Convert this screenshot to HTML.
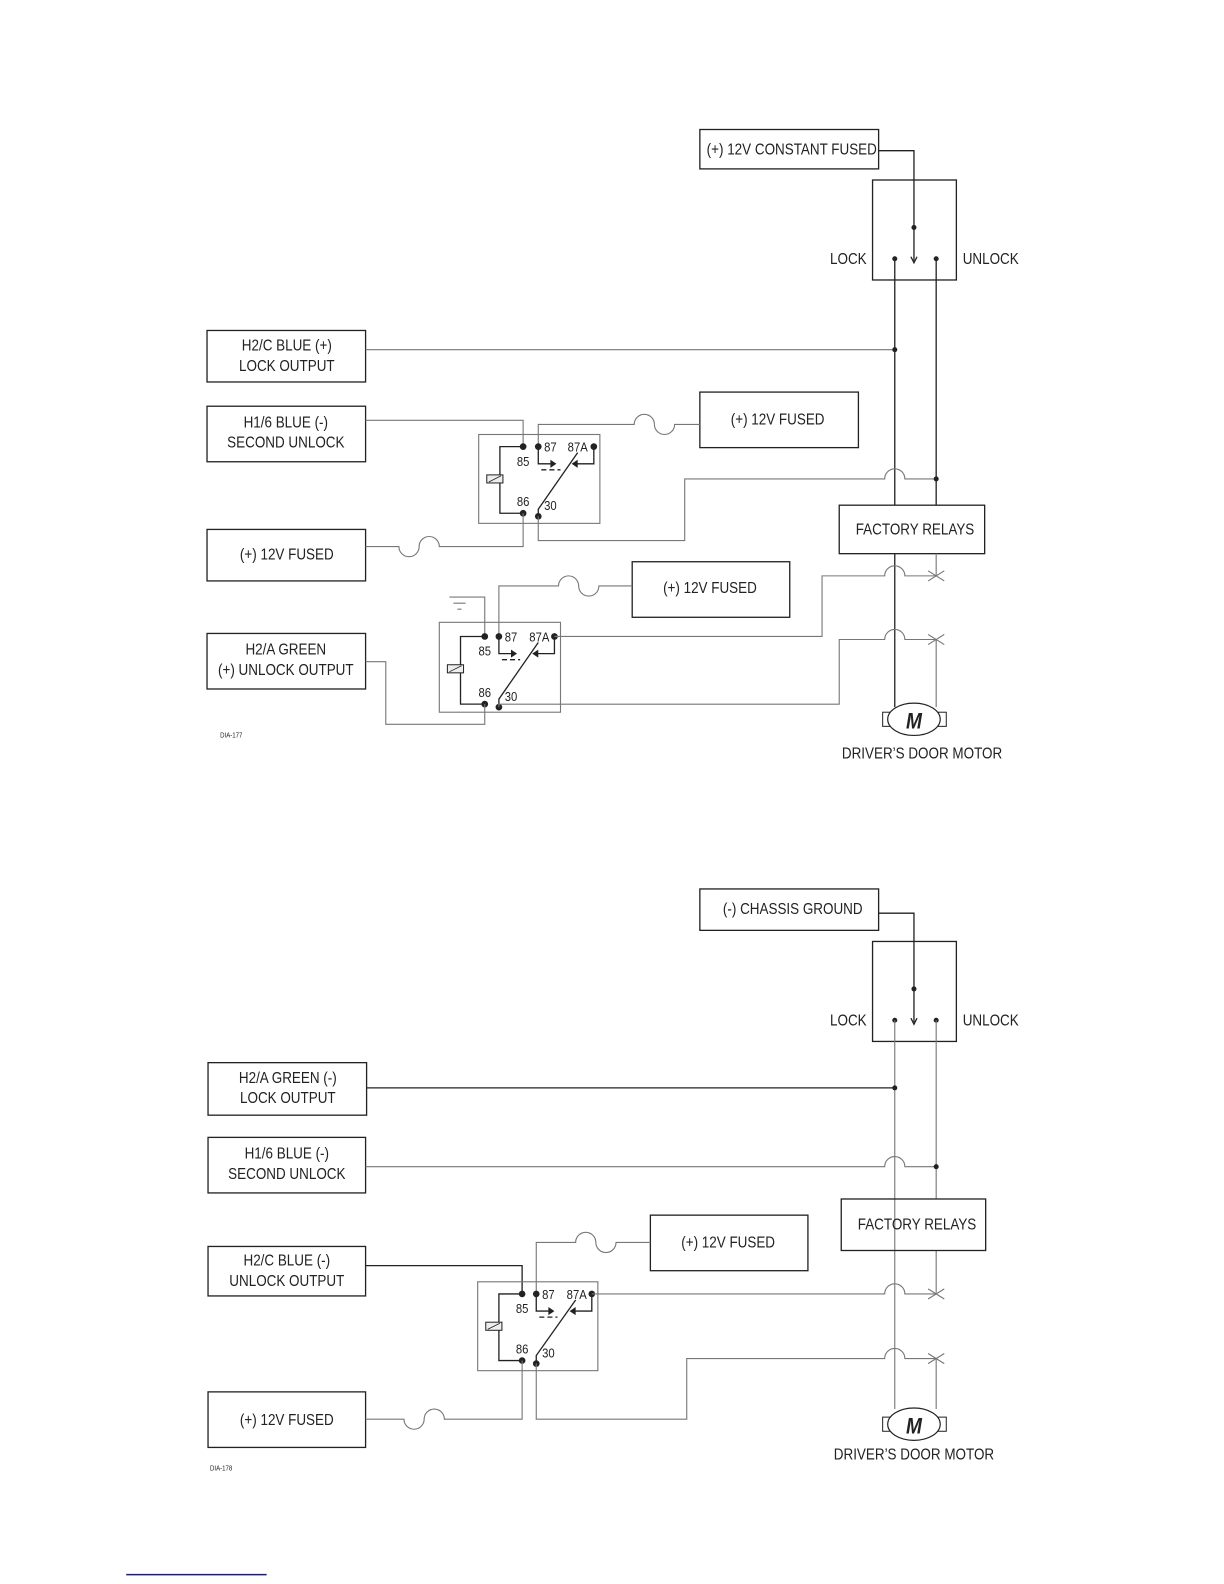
<!DOCTYPE html>
<html><head><meta charset="utf-8"><style>
html,body{margin:0;padding:0;background:#fff;}
svg{display:block;}
text{font-family:"Liberation Sans",sans-serif;font-size:15.5px;fill:#222;transform-box:fill-box;transform-origin:center;transform:scaleX(0.86);}
.b{fill:none;stroke:#222;stroke-width:1.3;}
.g{fill:none;stroke:#777;stroke-width:1.1;}
.k{fill:none;stroke:#222;stroke-width:1.3;}
.s{font-size:13px;}
</style></head><body>
<svg width="1224" height="1584" viewBox="0 0 1212 1568" xmlns="http://www.w3.org/2000/svg">
<g text-anchor="middle">
<rect class="b" x="693" y="128" width="177" height="39"/>
<text x="784" y="153">(+) 12V CONSTANT FUSED</text>
<path class="k" d="M870 149 H905 V258"/>
<path class="k" d="M902 254 L905 260 L908 254"/>
<circle cx="905" cy="225" r="2.5" fill="#222"/>
<rect class="b" x="864" y="178" width="83" height="99"/>
<circle cx="886" cy="256" r="2.5" fill="#222"/>
<circle cx="927" cy="256" r="2.5" fill="#222"/>
<text x="840" y="261">LOCK</text>
<text x="981" y="261">UNLOCK</text>
<path class="k" d="M886 256 V500 M927 256 V500"/>

<rect class="b" x="205" y="327" width="157" height="51"/>
<text x="284" y="347">H2/C BLUE (+)</text>
<text x="284" y="367">LOCK OUTPUT</text>
<path class="g" d="M362 346 H886"/>
<circle cx="886" cy="346" r="2.5" fill="#222"/>

<rect class="b" x="205" y="402" width="157" height="55"/>
<text x="283" y="423">H1/6 BLUE (-)</text>
<text x="283" y="443">SECOND UNLOCK</text>
<path class="g" d="M362 416 H518 V442"/>

<rect class="b" x="693" y="388" width="157" height="55"/>
<text x="770" y="420">(+) 12V FUSED</text>
<path class="g" d="M533 442 V420 H628 a10 10 0 0 1 20 0 a10 10 0 0 0 20 0 H693"/>

<rect class="g" x="474" y="430" width="120" height="88" stroke-width="1.4"/>
<path class="k" d="M518 442 H495 V508 H518"/>
<rect x="482" y="470" width="16" height="8" fill="#eee" stroke="#222" stroke-width="1"/>
<path d="M484 477 L496 471" stroke="#222" stroke-width="0.8"/>
<circle cx="518" cy="442" r="3.3" fill="#222"/>
<circle cx="533" cy="442" r="3.3" fill="#222"/>
<circle cx="588" cy="442" r="3.3" fill="#222"/>
<circle cx="518" cy="508" r="3.3" fill="#222"/>
<circle cx="533" cy="511" r="3.3" fill="#222"/>
<text x="545" y="447" class="s">87</text>
<text x="572" y="447" class="s">87A</text>
<text x="518" y="461" class="s">85</text>
<text x="518" y="501" class="s">86</text>
<text x="545" y="505" class="s">30</text>
<path class="k" d="M533 442 V459 H547 M588 442 V459 H570 M533 511 V504 L572 448"/>
<path d="M545 455 L551 459 L545 463Z M572 455 L566 459 L572 463Z" fill="#222"/>
<path class="k" d="M536 465 H555" stroke-dasharray="5,3"/>
<path class="g" d="M533 511 V535 H678 V474 H876 a10 10 0 0 1 20 0 H927"/>
<circle cx="927" cy="474" r="2.5" fill="#222"/>

<rect class="b" x="205" y="524" width="157" height="51"/>
<text x="284" y="554">(+) 12V FUSED</text>
<path class="g" d="M518 508 V541 H435 a10 10 0 0 0 -20 0 a10 10 0 0 1 -20 0 H362"/>

<rect class="b" x="831" y="500" width="144" height="48"/>
<text x="906" y="529">FACTORY RELAYS</text>

<path class="k" d="M886 548 V700"/>
<path class="g" d="M927 548 V570 M927 633 V700"/>

<path class="g" d="M445 591 H465 M449 597 H461 M453 603 H457 M465 591 H480 V630"/>
<rect class="b" x="626" y="556" width="156" height="55"/>
<text x="703" y="587">(+) 12V FUSED</text>
<path class="g" d="M494 630 V580 H553 a10 10 0 0 1 20 0 a10 10 0 0 0 20 0 H626"/>
<rect class="g" x="435" y="616" width="120" height="89" stroke-width="1.4"/>
<path class="k" d="M480 630 H456 V697 H480"/>
<rect x="443" y="658" width="16" height="8" fill="#eee" stroke="#222" stroke-width="1"/>
<path d="M445 665 L457 659" stroke="#222" stroke-width="0.8"/>
<circle cx="480" cy="630" r="3.3" fill="#222"/>
<circle cx="494" cy="630" r="3.3" fill="#222"/>
<circle cx="549" cy="630" r="3.3" fill="#222"/>
<circle cx="480" cy="697" r="3.3" fill="#222"/>
<circle cx="494" cy="700" r="3.3" fill="#222"/>
<text x="506" y="635" class="s">87</text>
<text x="534" y="635" class="s">87A</text>
<text x="480" y="649" class="s">85</text>
<text x="480" y="690" class="s">86</text>
<text x="506" y="694" class="s">30</text>
<path class="k" d="M494 630 V647 H508 M549 630 V647 H531 M494 700 V692 L533 636"/>
<path d="M506 643 L512 647 L506 651Z M533 643 L527 647 L533 651Z" fill="#222"/>
<path class="k" d="M497 653 H515" stroke-dasharray="5,3"/>
<path class="g" d="M549 630 H814 V570 H876 a10 10 0 0 1 20 0 H927"/>
<path class="g" d="M494 700 V697 H831 V633 H876 a10 10 0 0 1 20 0 H927"/>
<path class="g" d="M919 565 L935 575 M919 575 L935 565 M919 628 L935 638 M919 638 L935 628"/>

<rect class="b" x="205" y="627" width="157" height="55"/>
<text x="283" y="648">H2/A GREEN</text>
<text x="283" y="668">(+) UNLOCK OUTPUT</text>
<path class="g" d="M362 655 H382 V717 H480 V697"/>
<text x="229" y="730" style="font-size:7px">DIA-177</text>

<rect x="874" y="705" width="8" height="14" fill="#fff" stroke="#222"/>
<rect x="929" y="705" width="8" height="14" fill="#fff" stroke="#222"/>
<ellipse cx="905" cy="712" rx="26" ry="16" fill="#fff" stroke="#222" stroke-width="1.2"/>
<text x="905" y="721" style="font-size:22px;font-weight:bold;font-style:italic">M</text>
<text x="913" y="751">DRIVER’S DOOR MOTOR</text>

<rect class="b" x="693" y="880" width="177" height="41"/>
<text x="785" y="905">(-) CHASSIS GROUND</text>
<path class="k" d="M870 904 H905 V1012"/>
<path class="k" d="M902 1008 L905 1014 L908 1008"/>
<circle cx="905" cy="979" r="2.5" fill="#222"/>
<rect class="b" x="864" y="932" width="83" height="99"/>
<circle cx="886" cy="1010" r="2.5" fill="#222"/>
<circle cx="927" cy="1010" r="2.5" fill="#222"/>
<text x="840" y="1015">LOCK</text>
<text x="981" y="1015">UNLOCK</text>
<path class="g" d="M886 1010 V1395 M927 1010 V1187 M927 1238 V1280 M927 1345 V1395"/>

<rect class="b" x="206" y="1052" width="157" height="52"/>
<text x="285" y="1072">H2/A GREEN (-)</text>
<text x="285" y="1092">LOCK OUTPUT</text>
<path class="k" d="M363 1077 H886"/>
<circle cx="886" cy="1077" r="2.5" fill="#222"/>

<rect class="b" x="206" y="1126" width="156" height="55"/>
<text x="284" y="1147">H1/6 BLUE (-)</text>
<text x="284" y="1167">SECOND UNLOCK</text>
<path class="g" d="M362 1155 H876 a10 10 0 0 1 20 0 H927"/>
<circle cx="927" cy="1155" r="2.5" fill="#222"/>

<rect class="b" x="833" y="1187" width="143" height="51"/>
<text x="908" y="1217">FACTORY RELAYS</text>

<rect class="b" x="206" y="1234" width="156" height="49"/>
<text x="284" y="1253">H2/C BLUE (-)</text>
<text x="284" y="1273">UNLOCK OUTPUT</text>
<path class="k" d="M362 1253 H517 V1281"/>

<rect class="b" x="644" y="1203" width="156" height="55"/>
<text x="721" y="1235">(+) 12V FUSED</text>
<path class="g" d="M531 1281 V1230 H570 a10 10 0 0 1 20 0 a10 10 0 0 0 20 0 H644"/>

<rect class="g" x="473" y="1269" width="119" height="88" stroke-width="1.4"/>
<path class="k" d="M517 1281 H494 V1347 H517"/>
<rect x="481" y="1309" width="16" height="8" fill="#eee" stroke="#222" stroke-width="1"/>
<path d="M483 1316 L495 1310" stroke="#222" stroke-width="0.8"/>
<circle cx="517" cy="1281" r="3.3" fill="#222"/>
<circle cx="531" cy="1281" r="3.3" fill="#222"/>
<circle cx="586" cy="1281" r="3.3" fill="#222"/>
<circle cx="517" cy="1347" r="3.3" fill="#222"/>
<circle cx="531" cy="1350" r="3.3" fill="#222"/>
<text x="543" y="1286" class="s">87</text>
<text x="571" y="1286" class="s">87A</text>
<text x="517" y="1300" class="s">85</text>
<text x="517" y="1340" class="s">86</text>
<text x="543" y="1344" class="s">30</text>
<path class="k" d="M531 1281 V1298 H545 M586 1281 V1298 H568 M531 1350 V1342 L570 1287"/>
<path d="M543 1294 L549 1298 L543 1302Z M570 1294 L564 1298 L570 1302Z" fill="#222"/>
<path class="k" d="M534 1304 H552" stroke-dasharray="5,3"/>
<path class="g" d="M586 1281 H876 a10 10 0 0 1 20 0 H927"/>
<path class="g" d="M531 1350 V1405 H680 V1345 H876 a10 10 0 0 1 20 0 H927"/>
<path class="g" d="M919 1276 L935 1286 M919 1286 L935 1276 M919 1340 L935 1350 M919 1350 L935 1340"/>

<rect class="b" x="206" y="1378" width="156" height="55"/>
<text x="284" y="1411">(+) 12V FUSED</text>
<path class="g" d="M517 1347 V1405 H440 a10 10 0 0 0 -20 0 a10 10 0 0 1 -20 0 H362"/>
<text x="219" y="1456" style="font-size:7px">DIA-178</text>

<rect x="874" y="1403" width="8" height="14" fill="#fff" stroke="#222"/>
<rect x="929" y="1403" width="8" height="14" fill="#fff" stroke="#222"/>
<ellipse cx="905" cy="1410" rx="26" ry="16" fill="#fff" stroke="#222" stroke-width="1.2"/>
<text x="905" y="1419" style="font-size:22px;font-weight:bold;font-style:italic">M</text>
<text x="905" y="1445">DRIVER’S DOOR MOTOR</text>

<path d="M125 1559 H264" stroke="#1a1a80" stroke-width="1.5"/>
</g>
</svg>
</body></html>
